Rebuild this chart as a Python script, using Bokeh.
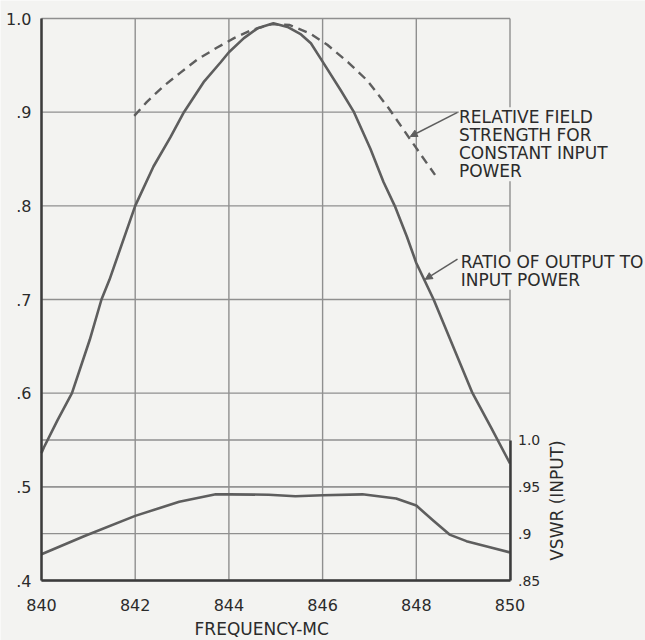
import math
from bokeh.plotting import figure
from bokeh.models import Range1d, LinearAxis, FixedTicker, Label, Arrow, NormalHead
from bokeh.embed import file_html
from bokeh.resources import INLINE

# ---------------- data ----------------
x_ticks = [840, 842, 844, 846, 848, 850]
x_tick_labels = ["840", "842", "844", "846", "848", "850"]
y_ticks = [0.4, 0.5, 0.6, 0.7, 0.8, 0.9, 1.0]
y_tick_labels = [".4", ".5", ".6", ".7", ".8", ".9", "1.0"]
vswr_ticks = [0.85, 0.9, 0.95, 1.0]
vswr_tick_labels = [".85", ".9", ".95", "1.0"]

# ratio of output to input power (solid)
freq_ratio = [840.0, 840.05, 840.34, 840.65, 841.03, 841.28, 841.45, 842.0,
              842.39, 842.75, 843.04, 843.46, 843.82, 844.0, 844.32, 844.61,
              844.95, 845.25, 845.54, 845.75, 846.0, 846.38, 846.67, 847.02,
              847.3, 847.54, 847.8, 848.0, 848.37, 849.2, 849.6, 850.0]
ratio = [0.536, 0.542, 0.571, 0.600, 0.657, 0.700, 0.721, 0.800,
         0.842, 0.873, 0.900, 0.932, 0.953, 0.964, 0.979, 0.9895,
         0.995, 0.991, 0.983, 0.9735, 0.954, 0.924, 0.900, 0.861,
         0.8255, 0.800, 0.767, 0.739, 0.700, 0.600, 0.563, 0.525]

# relative field strength for constant input power (dashed)
freq_field = [841.98, 842.25, 842.61, 842.96, 843.32, 843.75, 844.11, 844.5,
              844.92, 845.3, 845.73, 846.1, 846.55, 846.95, 847.4, 847.87, 848.4]
field = [0.896, 0.911, 0.928, 0.942, 0.956, 0.969, 0.979, 0.988,
         0.994, 0.993, 0.984, 0.972, 0.953, 0.934, 0.905, 0.871, 0.833]

# VSWR (input)
freq_vswr = [840.0, 840.92, 842.0, 842.94, 843.72, 844.0, 844.85, 845.42,
             846.0, 846.85, 847.57, 848.0, 848.36, 848.71, 849.07, 849.57,
             850.0]
vswr = [0.878, 0.8975, 0.919, 0.934, 0.942, 0.942, 0.9416, 0.940,
        0.941, 0.942, 0.9375, 0.930, 0.914, 0.899, 0.892, 0.8855,
        0.880]

# ---------------- layout / style ----------------
W, H = 645, 640
PX_X0, PX_X1 = 41.0, 509.5     # screen x of the first / last frequency tick
PX_YTOP, PX_YBOT = 18.0, 580.0  # screen y of the top / bottom left-axis tick
VSWR_SHIFT = vswr_ticks[0] - y_ticks[0]   # right scale: .85 sits on .4

BG = "#f3f3f1"
INK = "#2b2b2b"
CURVE = "#5e5e5e"
GRID = "#8f8f8f"
AXIS = "#3c3c3c"
FONT = "DejaVu Sans"

sx = (PX_X1 - PX_X0) / (x_ticks[-1] - x_ticks[0])
sy = (PX_YBOT - PX_YTOP) / (y_ticks[-1] - y_ticks[0])
x_range = Range1d(x_ticks[0] - PX_X0 / sx, x_ticks[0] + (W - PX_X0) / sx)
y_range = Range1d(y_ticks[0] - (H - PX_YBOT) / sy, y_ticks[-1] + PX_YTOP / sy)

p = figure(width=W, height=H, output_backend="svg", toolbar_location=None,
           x_range=x_range, y_range=y_range, min_border=0,
           x_axis_location=None, y_axis_location=None)
p.extra_y_ranges = {"vswr": Range1d(y_range.start + VSWR_SHIFT, y_range.end + VSWR_SHIFT)}
p.background_fill_color = BG
p.border_fill_color = BG
p.outline_line_color = None
p.xgrid.visible = False
p.ygrid.visible = False

# grid lines (drawn from the tick lists)
nx, ny, nv = len(x_ticks), len(y_ticks), len(vswr_ticks)
p.segment(x0=x_ticks, y0=[y_ticks[0]] * nx, x1=x_ticks, y1=[y_ticks[-1]] * nx,
          line_color=GRID, line_width=1.4)
p.segment(x0=[x_ticks[0]] * ny, y0=y_ticks, x1=[x_ticks[-1]] * ny, y1=y_ticks,
          line_color=GRID, line_width=1.4)
p.segment(x0=[x_ticks[0]] * nv, y0=vswr_ticks, x1=[x_ticks[-1]] * nv, y1=vswr_ticks,
          line_color=GRID, line_width=1.4, y_range_name="vswr")

# axes fixed at the chart edges
xaxis = LinearAxis(fixed_location=y_ticks[0], bounds=(x_ticks[0], x_ticks[-1]),
                   ticker=FixedTicker(ticks=x_ticks),
                   major_label_overrides={t: l for t, l in zip(x_ticks, x_tick_labels)})
yaxis = LinearAxis(fixed_location=x_ticks[0], bounds=(y_ticks[0], y_ticks[-1]),
                   ticker=FixedTicker(ticks=y_ticks),
                   major_label_overrides={t: l for t, l in zip(y_ticks, y_tick_labels)})
vaxis = LinearAxis(y_range_name="vswr", fixed_location=x_ticks[-1],
                   bounds=(vswr_ticks[0], vswr_ticks[-1]),
                   ticker=FixedTicker(ticks=vswr_ticks),
                   major_label_overrides={t: l for t, l in zip(vswr_ticks, vswr_tick_labels)})
for ax, size, standoff in ((xaxis, "16px", 18), (yaxis, "16px", 10), (vaxis, "14px", 8)):
    ax.major_tick_out = 0
    ax.major_tick_in = 0
    ax.minor_tick_out = 0
    ax.minor_tick_in = 0
    ax.axis_line_color = AXIS
    ax.axis_line_width = 2.5
    ax.major_label_text_font = FONT
    ax.major_label_text_font_size = size
    ax.major_label_text_color = INK
    ax.major_label_standoff = standoff
p.add_layout(xaxis, "below")
p.add_layout(yaxis, "left")
p.add_layout(vaxis, "right")

# curves
p.line(freq_ratio, ratio, line_color=CURVE, line_width=2.6, line_join="round")
p.line(freq_field, field, line_color=CURVE, line_width=2.4, line_dash="9 6")
p.line(freq_vswr, vswr, line_color=CURVE, line_width=2.6, line_join="round",
       y_range_name="vswr")

# annotations
lab1 = Label(x=848.91, y=0.9053, text="RELATIVE FIELD\nSTRENGTH FOR\nCONSTANT INPUT\nPOWER",
             text_font=FONT, text_font_size="17px", text_color=INK,
             text_baseline="top", text_align="left", text_line_height=0.9,
             background_fill_color=BG, background_fill_alpha=1.0)
lab2 = Label(x=848.95, y=0.751, text="RATIO OF OUTPUT TO\nINPUT POWER",
             text_font=FONT, text_font_size="17px", text_color=INK,
             text_baseline="top", text_align="left", text_line_height=0.9,
             background_fill_color=BG, background_fill_alpha=1.0)
p.add_layout(lab1)
p.add_layout(lab2)

p.add_layout(Arrow(end=NormalHead(size=7, fill_color=CURVE, line_color=CURVE),
                   x_start=848.88, y_start=0.8997, x_end=847.87, y_end=0.874,
                   line_color=CURVE, line_width=1.5))
p.add_layout(Arrow(end=NormalHead(size=7, fill_color=CURVE, line_color=CURVE),
                   x_start=848.88, y_start=0.743, x_end=848.19, y_end=0.7215,
                   line_color=CURVE, line_width=1.5))

p.add_layout(Label(x=851.01, y=0.9354, y_range_name="vswr", text="VSWR (INPUT)",
                   angle=math.pi / 2, text_font=FONT, text_font_size="17px",
                   text_color=INK, text_align="center", text_baseline="middle"))
p.add_layout(Label(x=844.7, y=0.3477, text="FREQUENCY-MC",
                   text_font=FONT, text_font_size="17px", text_color=INK,
                   text_align="center", text_baseline="middle"))

open("out.html", "w").write(file_html(p, INLINE))
